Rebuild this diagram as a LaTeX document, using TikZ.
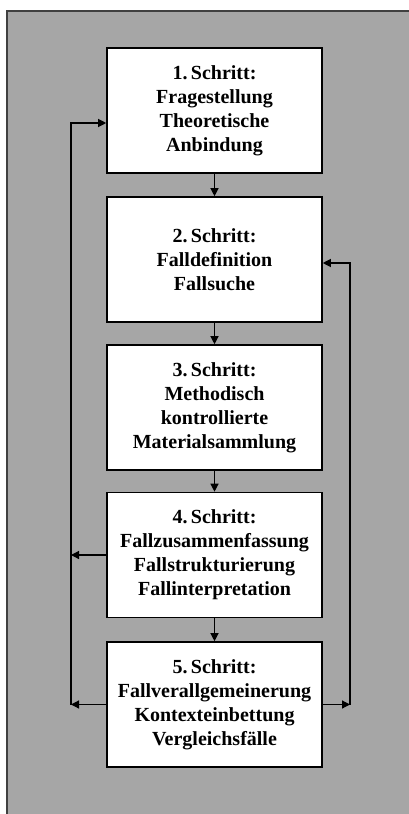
\documentclass[tikz,border=0pt]{standalone}
\usepackage{fontspec}
\setmainfont{Liberation Serif}
\usetikzlibrary{arrows.meta}
\definecolor{panelgray}{RGB}{166,166,166}
\definecolor{paneledge}{RGB}{64,64,64}
\begin{document}
\begin{tikzpicture}[x=1pt,y=-1pt,
  stepbox/.style={draw=black, line width=1.6pt, fill=white,
    minimum width=215pt, minimum height=125pt, inner sep=0pt,
    align=center, font=\bfseries\fontsize{20}{24}\selectfont},
  link/.style={line width=1.2pt, line join=miter,
    -{Triangle[length=8pt,width=8pt]}},
  plain/.style={line width=1.2pt}]
\useasboundingbox (0,0) rectangle (408,814);
\fill[white] (0,0) rectangle (408,814);
\draw[fill=panelgray, draw=paneledge, line width=1.5pt] (7,11) rectangle (430,840);

\node[stepbox] (s1) at (214.5,110.5) {1.\,Schritt:\\Fragestellung\\Theoretische\\Anbindung};
\node[stepbox] (s2) at (214.5,259.5) {2.\,Schritt:\\Falldefinition\\Fallsuche};
\node[stepbox] (s3) at (214.5,407.5) {3.\,Schritt:\\Methodisch\\kontrollierte\\Materialsammlung};
\node[stepbox] (s4) at (214.5,555) {4.\,Schritt:\\Fallzusammenfassung\\Fallstrukturierung\\Fallinterpretation};
\node[stepbox] (s5) at (214.5,704.5) {5.\,Schritt:\\Fallverallgemeinerung\\Kontexteinbettung\\Vergleichsfälle};

% main sequence
\draw[link] (s1) -- (s2);
\draw[link] (s2) -- (s3);
\draw[link] (s3) -- (s4);
\draw[link] (s4) -- (s5);

% feedback loop on the left
\coordinate (lt) at (71,123);
\coordinate (lb) at (71,704.5);
\draw[link] (lb) -- (lt) -- (lt -| s1.west);
\draw[link] (s4.west) -- (s4.west -| lt);
\draw[link] (s5.west) -- (lb);

% feedback loop on the right
\coordinate (rt) at (350,263);
\coordinate (rb) at (350,704.5);
\draw[link] (s5.east) -- (rb);
\draw[link] (rb) -- (rt) -- (rt -| s2.east);
\end{tikzpicture}
\end{document}
